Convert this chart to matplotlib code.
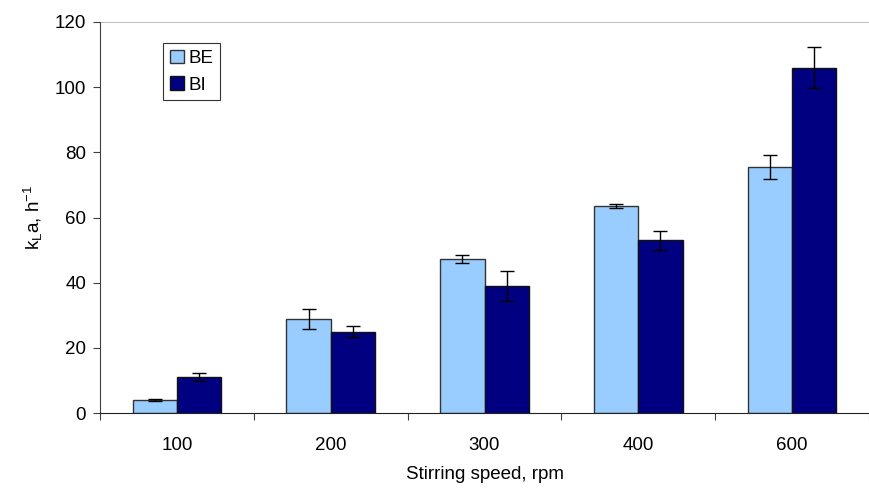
import numpy as np
import matplotlib.pyplot as plt

plt.rcParams['font.family'] = ['Liberation Sans', 'DejaVu Sans']
plt.rcParams['mathtext.fontset'] = 'custom'
plt.rcParams['mathtext.rm'] = 'Liberation Sans'
plt.rcParams['mathtext.it'] = 'Liberation Sans'

# Данные
speeds = ["100", "200", "300", "400", "600"]
be_vals = [4.0, 28.8, 47.2, 63.5, 75.5]
be_err = [0.3, 3.0, 1.2, 0.7, 3.7]
bi_vals = [11.0, 24.9, 39.0, 53.0, 106.0]
bi_err = [1.3, 1.7, 4.6, 3.0, 6.2]

fs = 13.5

fig = plt.figure(figsize=(8.69, 4.88), dpi=100)
ax = fig.add_axes([100 / 869, 75 / 488, 769 / 869, 391 / 488])

x = np.arange(len(speeds))
w = 45 / 156
ax.bar(x - w / 2, be_vals, w, color='#99ccff', edgecolor='#333333', linewidth=1,
       yerr=be_err, capsize=5, error_kw=dict(ecolor='black', elinewidth=1, capthick=1),
       label='BE', zorder=2)
ax.bar(x + w / 2, bi_vals, w, color='#000080', edgecolor='#111111', linewidth=1,
       yerr=bi_err, capsize=5, error_kw=dict(ecolor='black', elinewidth=1, capthick=1),
       label='BI', zorder=2)

ax.set_xlim(-0.5, -0.5 + 769 / 156)
ax.set_ylim(0, 120)
ax.set_yticks(range(0, 121, 20))
ax.set_xticks(np.arange(-0.5, len(speeds), 1))
ax.set_xticklabels([])
ax.set_xticks(x, minor=True)
ax.set_xticklabels(speeds, minor=True)
ax.tick_params(axis='x', which='major', length=5, direction='out', color='#404040')
ax.tick_params(axis='x', which='minor', length=0, pad=17, labelsize=fs)
ax.tick_params(axis='y', length=5, direction='out', color='#404040', labelsize=fs, pad=5)

ax.axhline(120, color='#b0b0b0', linewidth=1.2, zorder=1)
for s in ['top', 'right']:
    ax.spines[s].set_visible(False)
ax.spines['left'].set_color('#404040')
ax.spines['bottom'].set_color('#222222')

ax.set_xlabel("Stirring speed, rpm", fontsize=fs, labelpad=9)
ax.set_ylabel(r"k$_\mathregular{L}$a, h$^\mathregular{-1}$", fontsize=fs, labelpad=7)

leg = ax.legend(loc='upper left', bbox_to_anchor=(63 / 769, 1 - 21 / 391),
                fontsize=fs, frameon=True, fancybox=False, handlelength=0.75,
                handleheight=0.75, handletextpad=0.25, borderpad=0.35,
                labelspacing=0.5, borderaxespad=0)
leg.get_frame().set_edgecolor('black')
leg.get_frame().set_linewidth(0.8)

fig.savefig("out.png", dpi=100)
